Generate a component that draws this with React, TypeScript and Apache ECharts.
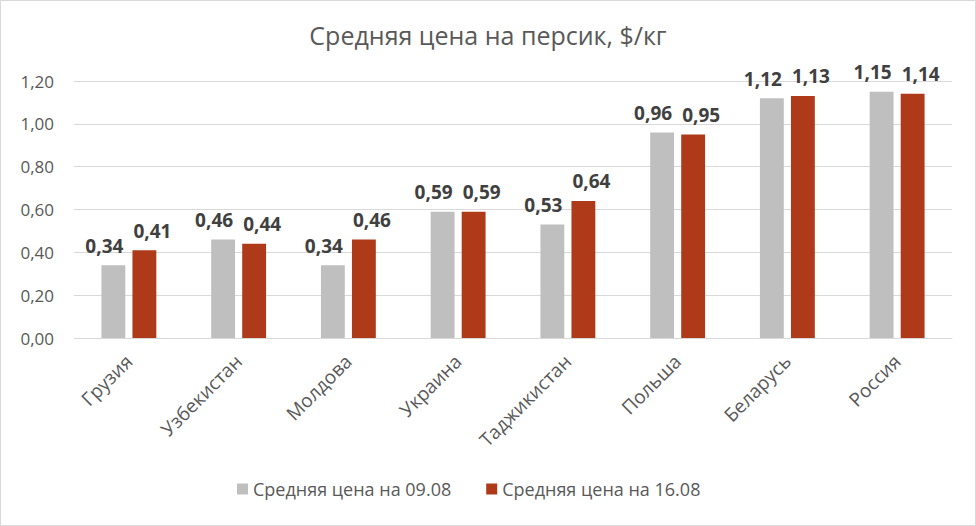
import React, { useEffect, useRef } from "react";
import * as echarts from "echarts";

const categories = ["Грузия", "Узбекистан", "Молдова", "Украина", "Таджикистан", "Польша", "Беларусь", "Россия"];
const seriesNames = ["Средняя цена на 09.08", "Средняя цена на 16.08"];
const price0908 = [0.34, 0.46, 0.34, 0.59, 0.53, 0.96, 1.12, 1.15];
const price1608 = [0.41, 0.44, 0.46, 0.59, 0.64, 0.95, 1.13, 1.14];
const titleText = "Средняя цена на персик, $/кг";

const FONT = "'Open Sans', 'Liberation Sans', sans-serif";
const fmt = (v: number) => v.toFixed(2).replace(".", ",");

export default function App() {
  const ref = useRef<HTMLDivElement>(null);
  useEffect(() => {
    document.body.style.margin = "0";
    const chart = echarts.init(ref.current!, null, { renderer: "svg" });
    const mkLabel = (dx: number) => ({
      show: true,
      position: "top" as const,
      distance: 10,
      offset: [dx, 0],
      fontFamily: FONT,
      fontSize: 19,
      fontWeight: "bold" as const,
      color: "#404040",
      formatter: (p: any) => fmt(p.value),
    });
    chart.setOption({
      animation: false,
      backgroundColor: "#ffffff",
      title: {
        text: titleText,
        left: "center",
        top: 16,
        textStyle: { fontFamily: FONT, fontSize: 25, fontWeight: "normal", color: "#595959" },
      },
      legend: {
        bottom: 22,
        left: 231,
        itemWidth: 11,
        itemHeight: 11,
        itemGap: 35,
        icon: "rect",
        textStyle: { fontFamily: FONT, fontSize: 18, color: "#595959" },
        data: seriesNames,
      },
      grid: { left: 73, right: 23, top: 80, bottom: 187 },
      xAxis: {
        type: "category",
        data: categories,
        axisLine: { lineStyle: { color: "#d9d9d9" } },
        axisTick: { show: false },
        axisLabel: {
          rotate: 45,
          margin: 20,
          fontFamily: FONT,
          fontSize: 19,
          color: "#595959",
          interval: 0,
        },
      },
      yAxis: {
        type: "value",
        min: 0,
        max: 1.2,
        interval: 0.2,
        axisLine: { show: false },
        axisTick: { show: false },
        splitLine: { lineStyle: { color: "#d9d9d9" } },
        axisLabel: {
          margin: 20,
          fontFamily: FONT,
          fontSize: 17,
          color: "#595959",
          formatter: (v: number) => fmt(v),
        },
      },
      series: [
        {
          name: seriesNames[0],
          type: "bar",
          data: price0908,
          itemStyle: { color: "#bfbfbf" },
          barCategoryGap: "50%",
          barGap: "30%",
          label: mkLabel(-9),
        },
        {
          name: seriesNames[1],
          type: "bar",
          data: price1608,
          itemStyle: { color: "#ae3a1a" },
          barCategoryGap: "50%",
          barGap: "30%",
          label: mkLabel(8),
        },
      ],
    });
    return () => chart.dispose();
  }, []);
  return (
    <div
      ref={ref}
      style={{ width: 976, height: 526, boxSizing: "border-box", border: "1px solid #d9d9d9" }}
    />
  );
}
